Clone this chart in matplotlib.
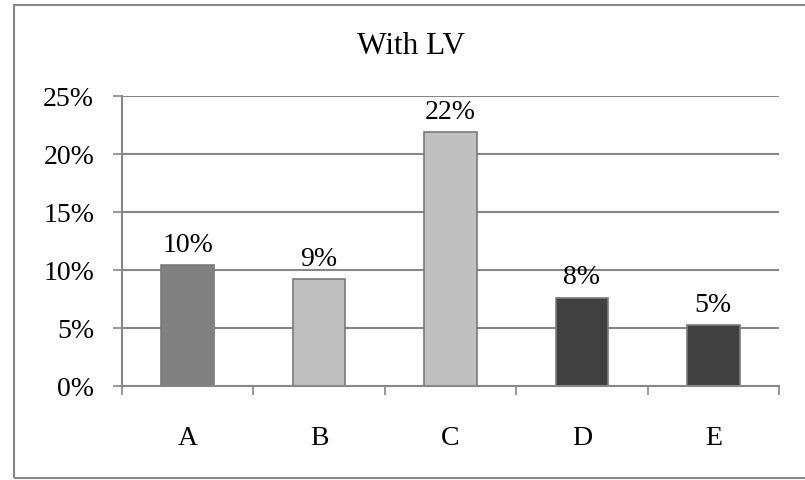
import matplotlib.pyplot as plt
from matplotlib.patches import Rectangle
from matplotlib.ticker import FixedLocator, FuncFormatter

# Share of each group, in percent
categories = ['A', 'B', 'C', 'D', 'E']
values = [10.4, 9.2, 21.9, 7.6, 5.2]
labels = ['10%', '9%', '22%', '8%', '5%']
colors = ['#808080', '#c0c0c0', '#c0c0c0', '#404040', '#404040']

W, H = 805, 481
GRID = '#878787'

plt.rcParams['font.family'] = ['Liberation Serif', 'DejaVu Serif']

fig = plt.figure(figsize=(W / 100, H / 100), dpi=100)

# outer chart frame (runs off the right edge)
fig.patches.append(Rectangle((14 / W, 1 - 479 / H), (830 - 14) / W, (479 - 6) / H,
                             transform=fig.transFigure, fill=False,
                             edgecolor=GRID, linewidth=1.5))

ax = fig.add_axes([122 / W, 1 - 386.7 / H, (779 - 122) / W, (386.7 - 97) / H])

x = list(range(len(categories)))
ax.bar(x, values, width=0.4, color=colors, edgecolor='#7a7a7a', linewidth=1.2, zorder=3)

for xi, v, lab in zip(x, values, labels):
    ax.annotate(lab, (xi, v), xytext=(0, 6), textcoords='offset points',
                ha='center', va='bottom', fontsize=20)

ax.set_xlim(-0.5, len(categories) - 0.5)
ax.set_ylim(0, 25)

ax.yaxis.set_major_locator(FixedLocator([0, 5, 10, 15, 20, 25]))
ax.yaxis.set_major_formatter(FuncFormatter(lambda v, p: f'{v:.0f}%'))
ax.tick_params(axis='y', length=6.5, width=1.2, color=GRID, pad=13.5, labelsize=20)

ax.set_xticks(x)
ax.set_xticklabels(categories)
ax.set_xticks([i - 0.5 for i in range(len(categories) + 1)], minor=True)
ax.tick_params(axis='x', which='major', length=0, pad=28, labelsize=20)
ax.tick_params(axis='x', which='minor', length=6.5, width=1.2, color=GRID)

for yv in [5, 10, 15, 20, 25]:
    ax.axhline(yv, color=GRID, linewidth=1.5, zorder=1)

for side in ['top', 'right']:
    ax.spines[side].set_visible(False)
for side in ['left', 'bottom']:
    ax.spines[side].set_color(GRID)
    ax.spines[side].set_linewidth(1.5)
    ax.spines[side].set_zorder(4)

fig.text(411 / W, 1 - 46 / H, 'With LV', ha='center', va='center', fontsize=22.5)

fig.savefig('out.png', dpi=100)
